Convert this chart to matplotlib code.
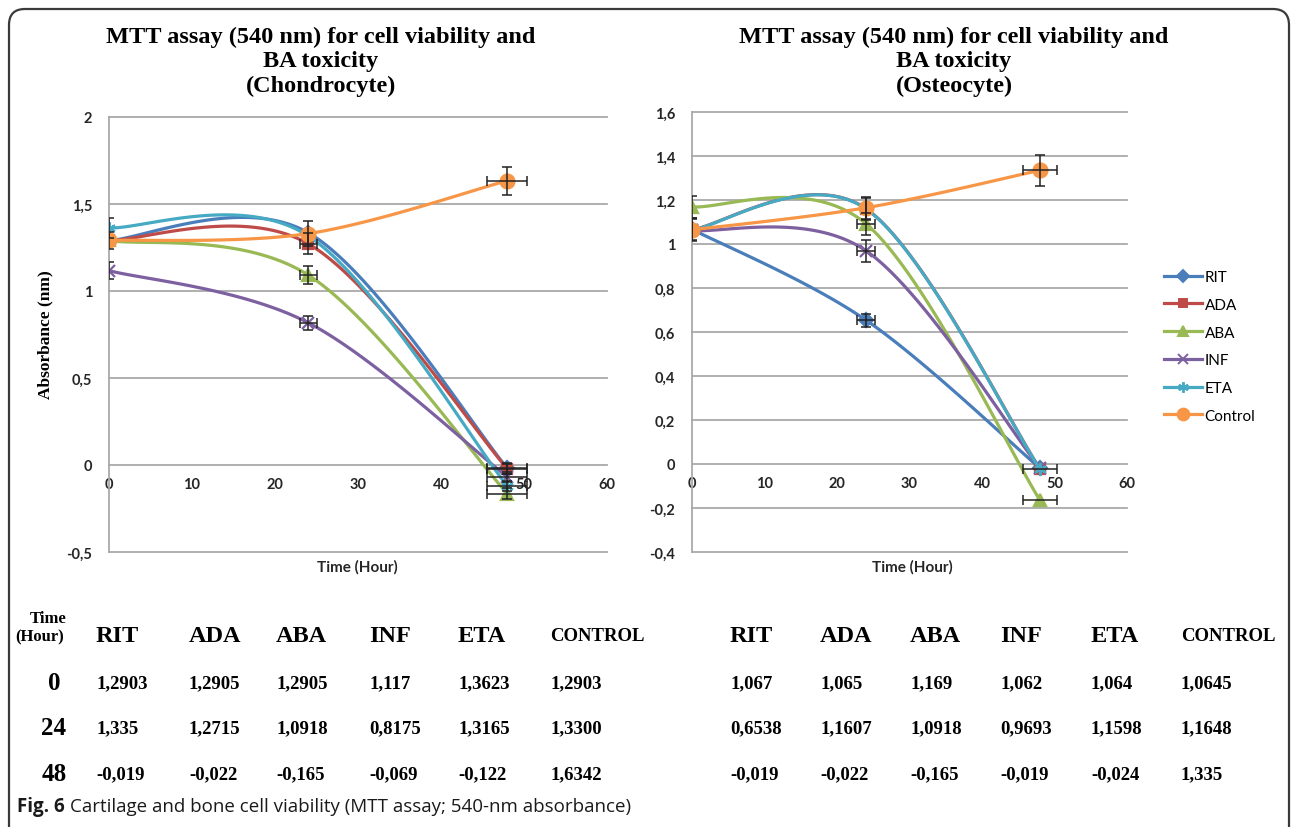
import numpy as np
import matplotlib
matplotlib.use("Agg")
import matplotlib.pyplot as plt
from matplotlib.lines import Line2D
from matplotlib.patches import FancyBboxPatch
from matplotlib.transforms import IdentityTransform

W, H = 1292, 828

time_h = [0, 24, 48]
series = ["RIT", "ADA", "ABA", "INF", "ETA", "Control"]
table_cols = ["RIT", "ADA", "ABA", "INF", "ETA", "CONTROL"]

# table values (chondrocyte), as printed
ch_rit = ["1,2903", "1,335", "-0,019"]
ch_ada = ["1,2905", "1,2715", "-0,022"]
ch_aba = ["1,2905", "1,0918", "-0,165"]
ch_inf = ["1,117", "0,8175", "-0,069"]
ch_eta = ["1,3623", "1,3165", "-0,122"]
ch_ctl = ["1,2903", "1,3300", "1,6342"]

# table values (osteocyte)
os_rit = ["1,067", "0,6538", "-0,019"]
os_ada = ["1,065", "1,1607", "-0,022"]
os_aba = ["1,169", "1,0918", "-0,165"]
os_inf = ["1,062", "0,9693", "-0,019"]
os_eta = ["1,064", "1,1598", "-0,024"]
os_ctl = ["1,0645", "1,1648", "1,335"]

# error bars (y in absorbance, x in hours)
ch_yerr = [[0, 0, 0.03], [0, 0.06, 0.03], [0, 0.05, 0.03],
           [0.05, 0.04, 0.03], [0.06, 0, 0.03], [0.05, 0.07, 0.08]]
ch_xerr = [[0, 0, 2.4], [0, 1.0, 2.4], [0, 1.0, 2.4],
           [0, 1.0, 2.4], [0, 0, 2.4], [0, 0, 2.4]]
os_yerr = [[0.05, 0.03, 0], [0, 0.05, 0], [0.05, 0.05, 0],
           [0, 0.05, 0], [0, 0, 0], [0.05, 0.05, 0.07]]
os_xerr = [[0, 1.3, 0], [0, 0, 2.4], [0, 1.3, 2.4],
           [0, 1.3, 0], [0, 0, 0], [0, 0, 2.4]]

colors = ["#4A7EBB", "#BE4B48", "#98B954", "#7D60A0", "#46AAC5", "#F79646"]
markers = ["D", "s", "^", "x", (6, 2, 0), "o"]
msizes = [7, 7.5, 8.5, 8, 9, 10]

SERIF = "Liberation Serif"
SANS = "Lato"


def num(s):
    return float(s.replace(",", "."))


def smooth(xs, ys, n=60):
    # excel-style smoothed line (catmull-rom bezier)
    p = np.column_stack([xs, ys]).astype(float)
    out = []
    for i in range(len(p) - 1):
        p0 = p[max(i - 1, 0)]
        p1 = p[i]
        p2 = p[i + 1]
        p3 = p[min(i + 2, len(p) - 1)]
        c1 = p1 + (p2 - p0) / 6
        c2 = p2 - (p3 - p1) / 6
        t = np.linspace(0, 1, n)[:, None]
        seg = (1 - t)**3 * p1 + 3 * (1 - t)**2 * t * c1 + 3 * (1 - t) * t**2 * c2 + t**3 * p2
        out.append(seg if i == 0 else seg[1:])
    return np.vstack(out)


def comma(v):
    s = "%g" % round(v, 2)
    if s == "-0":
        s = "0"
    return s.replace(".", ",")


def draw_panel(ax, data, yerrs, xerrs, ylim, ystep):
    for k, col in enumerate(data):
        ys = [num(s) for s in col]
        c = smooth(time_h, ys)
        ax.plot(c[:, 0], c[:, 1], color=colors[k], lw=2.3, zorder=3 + k * 0.1,
                solid_capstyle="round")
        ax.plot(time_h, ys, ls="none", marker=markers[k], ms=msizes[k],
                color=colors[k], mec=colors[k], mew=1.6, zorder=3.05 + k * 0.1)
        for x, y, xe, ye in zip(time_h, ys, xerrs[k], yerrs[k]):
            if ye > 0:
                ax.errorbar(x, y, yerr=ye, fmt="none", ecolor="#222222",
                            elinewidth=1.1, capsize=3.5, capthick=1.1, zorder=4)
            if xe > 0:
                ax.errorbar(x, y, xerr=xe, fmt="none", ecolor="#222222",
                            elinewidth=1.1, capsize=3.5, capthick=1.1, zorder=4)

    ax.set_xlim(0, 60)
    ax.set_ylim(*ylim)
    yt = np.arange(ylim[0], ylim[1] + ystep / 2, ystep)
    ax.set_yticks(yt)
    ax.set_yticklabels([comma(v) for v in yt])
    ax.set_xticks(range(0, 61, 10))
    ax.set_xticklabels([str(v) for v in range(0, 61, 10)])
    ax.grid(axis="y", color="#A9A9A9", lw=1.3)
    for gl in ax.get_ygridlines():
        gl.set_clip_on(False)
    ax.set_axisbelow(True)
    for s in ["top", "right"]:
        ax.spines[s].set_visible(False)
    ax.spines["bottom"].set_position(("data", 0))
    ax.spines["bottom"].set_visible(False)
    ax.spines["left"].set_color("#A9A9A9")
    ax.spines["left"].set_linewidth(1.3)
    ax.tick_params(axis="both", length=0)
    ax.tick_params(axis="y", pad=12)
    ax.tick_params(axis="x", pad=9)
    for lab in ax.get_xticklabels() + ax.get_yticklabels():
        lab.set_fontfamily(SANS)
        lab.set_fontweight("bold")
        lab.set_fontsize(10.5)
        lab.set_color("#262626")


fig = plt.figure(figsize=(W / 100, H / 100), dpi=100)

ax_l = fig.add_axes([109 / W, 1 - 553 / H, 498 / W, 435 / H])
ax_r = fig.add_axes([692 / W, 1 - 553 / H, 435 / W, 440 / H])

draw_panel(ax_l, [ch_rit, ch_ada, ch_aba, ch_inf, ch_eta, ch_ctl],
           ch_yerr, ch_xerr, (-0.5, 2.0), 0.5)
draw_panel(ax_r, [os_rit, os_ada, os_aba, os_inf, os_eta, os_ctl],
           os_yerr, os_xerr, (-0.4, 1.6), 0.2)

# titles
fig.text(321 / W, 1 - 62 / H,
         "MTT assay (540 nm) for cell viability and\nBA toxicity\n(Chondrocyte)",
         ha="center", va="center", fontfamily=SERIF, fontweight="bold",
         fontsize=17.5, linespacing=1.2)
fig.text(954 / W, 1 - 62 / H,
         "MTT assay (540 nm) for cell viability and\nBA toxicity\n(Osteocyte)",
         ha="center", va="center", fontfamily=SERIF, fontweight="bold",
         fontsize=17.5, linespacing=1.2)

fig.text(45 / W, 1 - 335 / H, "Absorbance (nm)", rotation=90, ha="center",
         va="center", fontfamily=SERIF, fontweight="bold", fontsize=12.5)
fig.text(357 / W, 1 - 567 / H, "Time (Hour)", ha="center", va="center",
         fontfamily=SANS, fontweight="bold", fontsize=11, color="#262626")
fig.text(912 / W, 1 - 567 / H, "Time (Hour)", ha="center", va="center",
         fontfamily=SANS, fontweight="bold", fontsize=11, color="#262626")

# legend
handles = [Line2D([], [], color=colors[k], lw=2.3, marker=markers[k],
                  ms=msizes[k] * 0.85, mec=colors[k], mew=1.4)
           for k in range(len(series))]
fig.legend(handles, series, loc="upper left",
           bbox_to_anchor=(1164 / W, 1 - 271 / H), frameon=False,
           borderpad=0, borderaxespad=0, handlelength=2.5,
           handletextpad=0.15, labelspacing=0.9,
           prop={"family": SANS, "size": 11})

# data tables below the charts
col_l = [96, 189, 276, 369, 458, 550]
col_r = [730, 820, 910, 1000, 1091, 1181]
head_y = 637
row_y = [684, 729, 775]

for cols in (col_l, col_r):
    for x, name in zip(cols, table_cols):
        fig.text(x / W, 1 - head_y / H, name, ha="left", va="center",
                 fontfamily=SERIF, fontweight="bold",
                 fontsize=13.5 if name == "CONTROL" else 17.5)

fig.text(48 / W, 1 - 619 / H, "Time", ha="center", va="center",
         fontfamily=SERIF, fontweight="bold", fontsize=12)
fig.text(40 / W, 1 - 637 / H, "(Hour)", ha="center", va="center",
         fontfamily=SERIF, fontweight="bold", fontsize=12)
for y, t in zip(row_y, time_h):
    fig.text(54 / W, 1 - y / H, str(t), ha="center", va="center",
             fontfamily=SERIF, fontweight="bold", fontsize=18)

for cols, data in ((col_l, [ch_rit, ch_ada, ch_aba, ch_inf, ch_eta, ch_ctl]),
                   (col_r, [os_rit, os_ada, os_aba, os_inf, os_eta, os_ctl])):
    for x, col in zip(cols, data):
        for y, s in zip(row_y, col):
            fig.text(x / W, 1 - y / H, s, ha="left", va="center",
                     fontfamily=SERIF, fontweight="bold", fontsize=13.5)

# caption
cap1 = fig.text(17 / W, 1 - 807 / H, "Fig. 6", ha="left", va="center",
                fontfamily="Open Sans", fontweight="bold", fontsize=13.5,
                color="#1a1a1a")
r = fig.canvas.get_renderer()
bb = cap1.get_window_extent(renderer=r)
fig.text((bb.x1 + 5) / W, 1 - 807 / H,
         "Cartilage and bone cell viability (MTT assay; 540-nm absorbance)",
         ha="left", va="center", fontfamily="Open Sans", fontsize=13.5,
         color="#1a1a1a")

# rounded frame around the figure
frame = FancyBboxPatch((9, -30), 1280, H - 10 + 30,
                       boxstyle="round,pad=0,rounding_size=16",
                       transform=IdentityTransform(), fill=False,
                       ec="#3a3a3a", lw=1.6)
fig.patches.append(frame)

fig.savefig("out.png", dpi=100)
